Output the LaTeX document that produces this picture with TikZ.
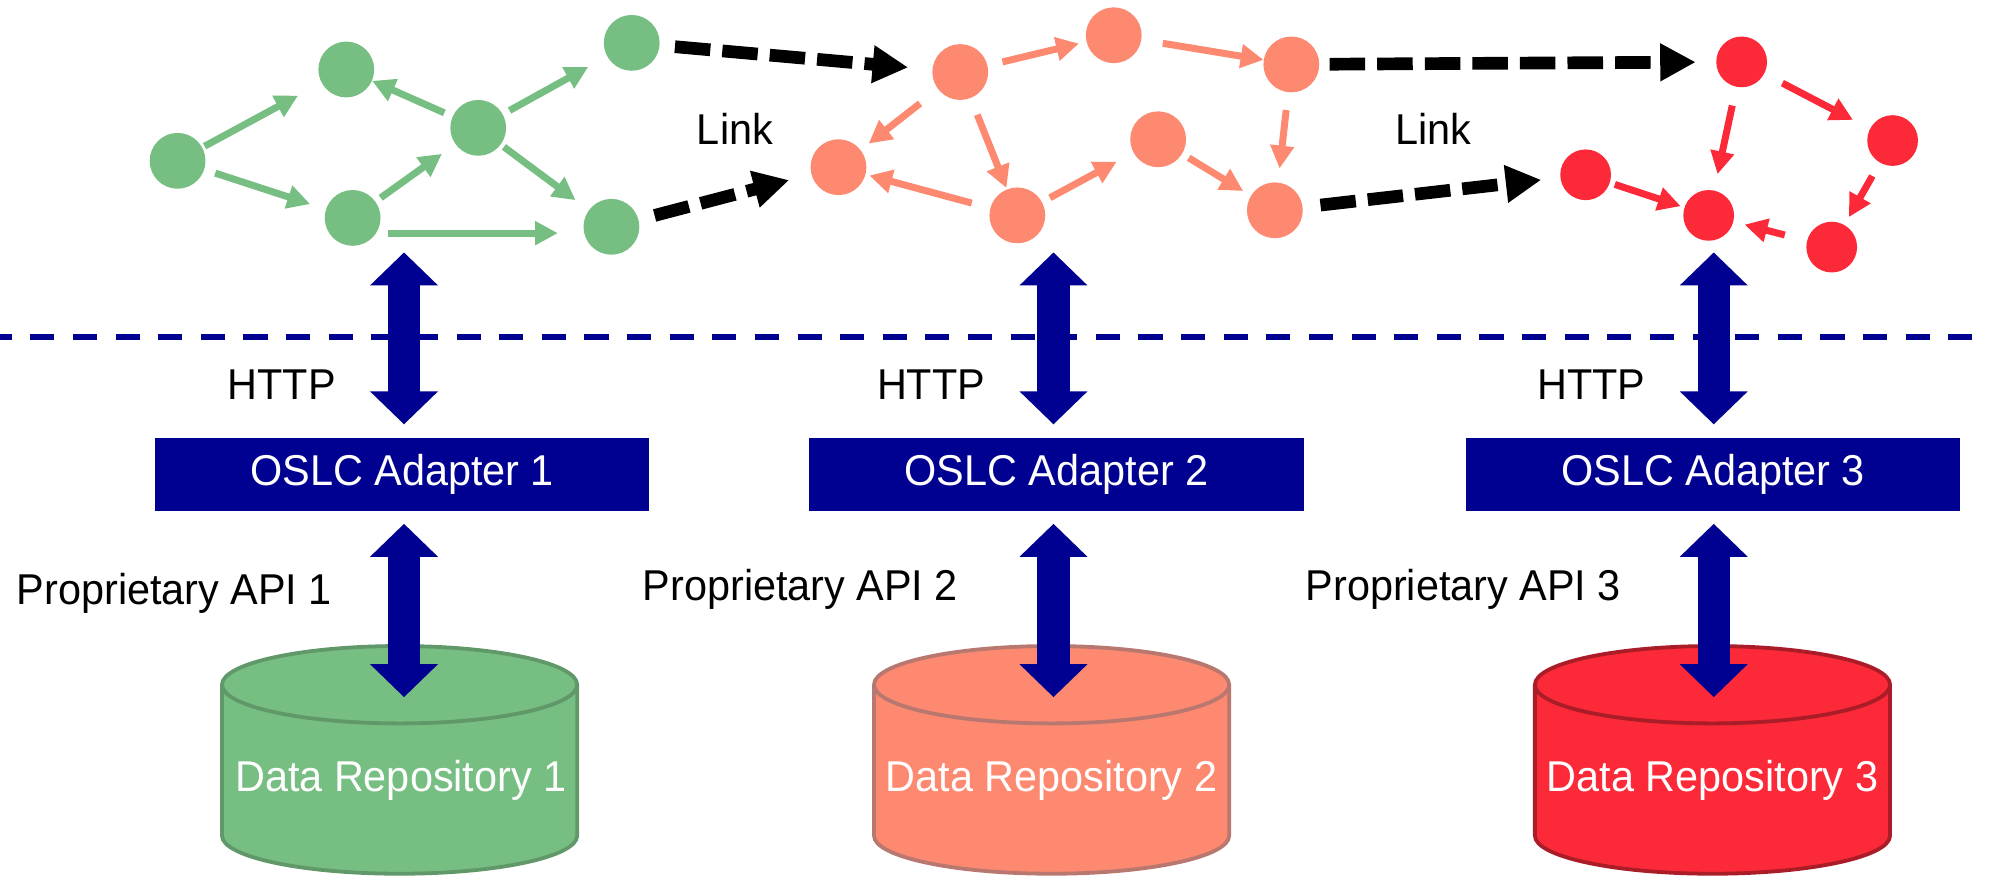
\documentclass[tikz,border=0pt]{standalone}
\usepackage{fontspec}
\setmainfont{Liberation Sans}[FakeStretch=0.96]
\usetikzlibrary{arrows.meta}

\definecolor{navy}{RGB}{0,0,145}
\definecolor{grfill}{RGB}{119,190,131}
\definecolor{grline}{RGB}{96,152,106}
\definecolor{safill}{RGB}{252,137,112}
\definecolor{saline}{RGB}{184,120,112}
\definecolor{refill}{RGB}{252,41,56}
\definecolor{reline}{RGB}{170,28,40}

\begin{document}
\begin{tikzpicture}[x=1pt, y=1pt, font=\fontsize{34}{40}\selectfont,
	>={Triangle[length=18pt, width=18pt]},
	gstate/.style={circle, fill=grfill, minimum size=44pt, inner sep=0pt},
	sstate/.style={circle, fill=safill, minimum size=44pt, inner sep=0pt},
	rstate/.style={circle, fill=refill, minimum size=40pt, inner sep=0pt},
	gedge/.style={->, color=grfill, line width=5.5pt},
	sedge/.style={->, color=safill, line width=5.5pt},
	redge/.style={->, color=refill, line width=5.5pt},
	link/.style={->, >={Triangle[length=28pt, width=28pt]}, color=black, line width=10pt,
		dash pattern=on 28pt off 9.5pt,
		preaction={draw=black!40, opacity=0.35, transform canvas={shift={(1.5pt,-2.5pt)}}}},
	api/.style={<->, >={Triangle[length=26pt, width=52pt]}, draw=navy, line width=25.5pt},
	adapter/.style={rectangle, fill=navy, text=white, minimum width=390pt, minimum height=57.5pt, inner sep=0pt},
	repo/.style={line width=3pt},
	dbtext/.style={text=white}]

	\useasboundingbox (0,0) rectangle (1568,689.8);

	% data repositories
	\filldraw[repo, fill=grfill, draw=grline] (175,150) -- (175,31) arc[start angle=180, end angle=360, x radius=140, y radius=30]
		-- (455,150) arc[start angle=0, end angle=180, x radius=140, y radius=30.5] -- cycle;
	\draw[repo, draw=grline] (175,150) arc[start angle=180, end angle=360, x radius=140, y radius=30.5];
	\filldraw[repo, fill=safill, draw=saline] (689,150) -- (689,31) arc[start angle=180, end angle=360, x radius=140, y radius=30]
		-- (969,150) arc[start angle=0, end angle=180, x radius=140, y radius=30.5] -- cycle;
	\draw[repo, draw=saline] (689,150) arc[start angle=180, end angle=360, x radius=140, y radius=30.5];
	\filldraw[repo, fill=refill, draw=reline] (1210,150) -- (1210,31) arc[start angle=180, end angle=360, x radius=140, y radius=30]
		-- (1490,150) arc[start angle=0, end angle=180, x radius=140, y radius=30.5] -- cycle;
	\draw[repo, draw=reline] (1210,150) arc[start angle=180, end angle=360, x radius=140, y radius=30.5];

	\node[dbtext] (repo1) at (316,75) {Data Repository 1};
	\node[dbtext] (repo2) at (829,75) {Data Repository 2};
	\node[dbtext] (repo3) at (1350,75) {Data Repository 3};

	% adapters
	\node[adapter] (ad1) at (317,315.8) {OSLC Adapter 1};
	\node[adapter] (ad2) at (833,315.8) {OSLC Adapter 2};
	\node[adapter] (ad3) at (1350.5,315.8) {OSLC Adapter 3};

	\node (http1) at (222,386.5) {HTTP};
	\node (http2) at (734,386.5) {HTTP};
	\node (http3) at (1254.5,386.5) {HTTP};

	\node (prop1) at (137.5,222) {Proprietary API 1};
	\node (prop2) at (631,225) {Proprietary API 2};
	\node (prop3) at (1153.5,225) {Proprietary API 3};

	% separator
	\draw[navy, line width=4.7pt, dash pattern=on 19pt off 14.6pt, dash phase=9.7pt] (0,424.1) -- (1568,424.1);

	\coordinate (top1) at (318.5,490.8);
	\coordinate (top2) at (830.5,490.8);
	\coordinate (top3) at (1351,490.8);
	\coordinate (db1) at (318.5,140.2);
	\coordinate (db2) at (830.5,140.2);
	\coordinate (db3) at (1351,140.2);

	\draw[api, shorten >=10.5pt] (top1) -- (top1 |- ad1.north);
	\draw[api, shorten >=10.5pt] (top2) -- (top2 |- ad2.north);
	\draw[api, shorten >=10.5pt] (top3) -- (top3 |- ad3.north);
	\draw[api, shorten <=10pt] (db1 |- ad1.south) -- (db1);
	\draw[api, shorten <=10pt] (db2 |- ad2.south) -- (db2);
	\draw[api, shorten <=10pt] (db3 |- ad3.south) -- (db3);

	% linked data
	\node[gstate] (g1) at (140,563) {};
	\node[gstate] (g2) at (273,635) {};
	\node[gstate] (g3) at (377,589) {};
	\node[gstate] (g4) at (278,518) {};
	\node[gstate] (g5) at (498,656) {};
	\node[gstate] (g6) at (482,511) {};

	\node[sstate] (s1) at (757,633) {};
	\node[sstate] (s2) at (878,662) {};
	\node[sstate] (s3) at (1018,639) {};
	\node[sstate] (s4) at (661,558) {};
	\node[sstate] (s5) at (802,520) {};
	\node[sstate] (s6) at (913,580) {};
	\node[sstate] (s7) at (1005,524) {};

	\node[rstate] (r1) at (1373,641) {};
	\node[rstate] (r2) at (1492,579) {};
	\node[rstate] (r3) at (1250,552) {};
	\node[rstate] (r4) at (1347,520) {};
	\node[rstate] (r5) at (1444,495) {};

	\path[gedge]
	(g1) edge[shorten <=2pt, shorten >=21pt] (g2)
	     edge[shorten <=9pt, shorten >=13pt] (g4)
	(g3) edge[shorten <=7pt] (g2)
	     edge[shorten <=6pt, shorten >=17pt] (g5)
	     edge[shorten <=3pt, shorten >=13pt] (g6)
	(g4) edge[shorten <=5pt, shorten >=13pt] (g3)
	([yshift=-12pt]g4.east) edge[shorten <=6pt, shorten >=20pt] ([yshift=-5pt]g6.west);

	\path[sedge]
	(s1) edge[shorten <=12pt, shorten >=6pt] (s2)
	     edge[shorten <=18pt, shorten >=8pt] (s4)
	     edge[shorten <=14pt, shorten >=1pt] (s5)
	(s2) edge[shorten <=17pt] (s3)
	(s3) edge[shorten <=14pt, shorten >=11pt] (s7)
	(s5) edge[shorten <=15pt, shorten >=3pt] (s4)
	     edge[shorten <=7pt, shorten >=15pt] (s6)
	(s6) edge[shorten <=6pt, shorten >=7pt] (s7);

	\path[redge]
	(r1) edge[shorten <=16pt, shorten >=15pt] (r2)
	     edge[shorten <=15pt, shorten >=13pt] (r4)
	(r2) edge[shorten <=12pt, shorten >=7pt] (r5)
	(r3) edge[shorten <=4pt, shorten >=3pt] (r4)
	(r5) edge[shorten <=18pt, shorten >=9pt] (r4);

	\path[link]
	(g5) edge[shorten <=12pt, shorten >=19pt] (s1)
	(g6) edge[shorten <=13pt, shorten >=18pt] (s4)
	(s3) edge[shorten <=8pt, shorten >=16pt] (r1)
	(s7) edge[shorten <=14pt, shorten >=15pt] (r3);

	\node (link1) at (579.4,588.4) {Link};
	\node (link2) at (1130,588.4) {Link};

\end{tikzpicture}
\end{document}
